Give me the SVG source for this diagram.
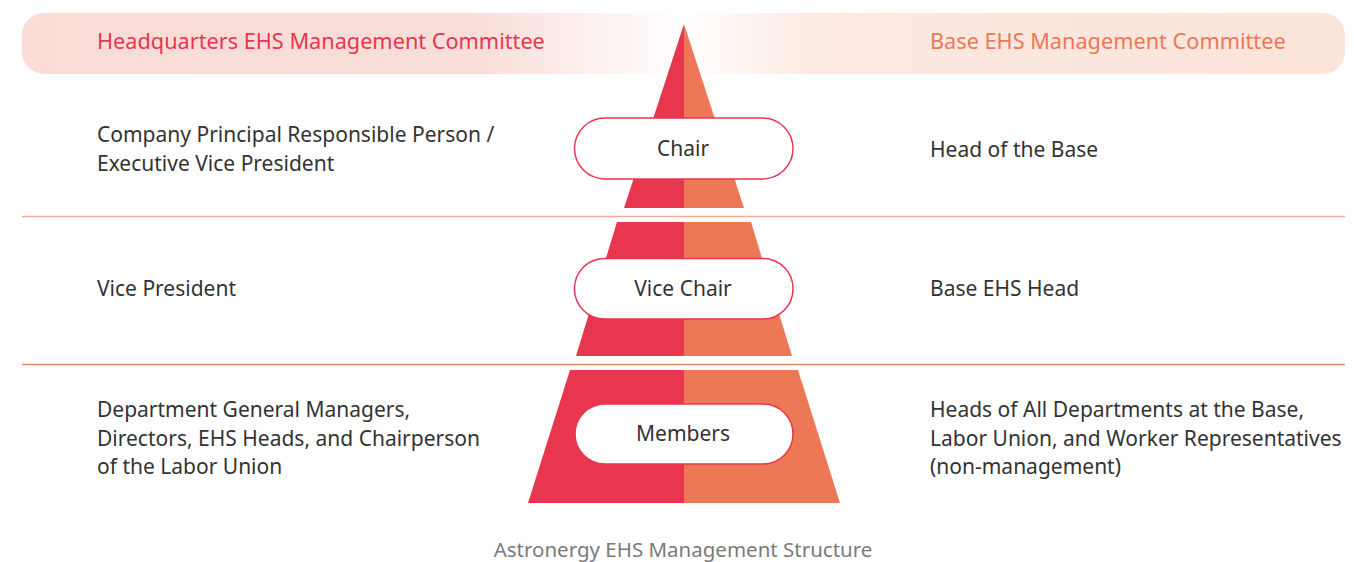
<svg xmlns="http://www.w3.org/2000/svg" width="1354" height="562" viewBox="0 0 1354 562">
<defs>
<linearGradient id="band" x1="22" y1="0" x2="1345" y2="0" gradientUnits="userSpaceOnUse">
<stop offset="0" stop-color="#f9dcd6"/>
<stop offset="0.34" stop-color="#f9ddd8"/>
<stop offset="0.5" stop-color="#ffffff"/>
<stop offset="0.6" stop-color="#fce9e1"/>
<stop offset="1" stop-color="#fbe4da"/>
</linearGradient>
<style>
.t{font-family:"Noto Sans","Open Sans",sans-serif;font-size:21px;fill:#333333}
.h{font-family:"Noto Sans","Open Sans",sans-serif;font-size:21.7px}
.pill{fill:#ffffff;stroke:#e8364f;stroke-width:1.5}
.pt{font-family:"Noto Sans","Open Sans",sans-serif;font-size:21px;fill:#333333;text-anchor:middle}
.red{fill:#e8364f}
.org{fill:#ec7855}
.div{stroke-width:1.3}
</style>
</defs>
<rect x="22" y="13" width="1323" height="61" rx="22" fill="url(#band)"/>
<text class="h" x="97" y="49" fill="#e8364f">Headquarters EHS Management Committee</text>
<text class="h" x="930" y="49" fill="#ec7855">Base EHS Management Committee</text>
<g id="connectors">
<line class="div" x1="22" y1="216.5" x2="1345" y2="216.5" stroke="#f3ab9a"/>
<line class="div" x1="22" y1="364.5" x2="1345" y2="364.5" stroke="#ef8a6c"/>
</g>
<g id="pyramid">
<polygon class="red" points="684,24 624,208 684,208"/>
<polygon class="org" points="684,24 744,208 684,208"/>
<polygon class="red" points="617,222 576,356 684,356 684,222"/>
<polygon class="org" points="684,222 684,356 792,356 751,222"/>
<polygon class="red" points="570,370 528,503 684,503 684,370"/>
<polygon class="org" points="684,370 684,503 840,503 798,370"/>
</g>
<g id="chair">
<rect class="pill" x="574.5" y="118" width="218.5" height="61" rx="30.5"/>
<text class="pt" x="683" y="156">Chair</text>
</g>
<g id="vice-chair">
<rect class="pill" x="574.5" y="258.5" width="218.5" height="60.5" rx="30"/>
<text class="pt" x="683" y="296">Vice Chair</text>
</g>
<g id="members">
<rect class="pill" x="575" y="404" width="218" height="60" rx="30"/>
<text class="pt" x="683" y="441">Members</text>
</g>
<g id="hq-chair">
<text class="t" x="97" y="142">Company Principal Responsible Person /</text>
<text class="t" x="97" y="171">Executive Vice President</text>
</g>
<g id="hq-vice">
<text class="t" x="97" y="296">Vice President</text>
</g>
<g id="hq-members">
<text class="t" x="97" y="417">Department General Managers,</text>
<text class="t" x="97" y="446">Directors, EHS Heads, and Chairperson</text>
<text class="t" x="97" y="474">of the Labor Union</text>
</g>
<g id="base-chair">
<text class="t" x="930" y="157">Head of the Base</text>
</g>
<g id="base-vice">
<text class="t" x="930" y="296">Base EHS Head</text>
</g>
<g id="base-members">
<text class="t" x="930" y="417">Heads of All Departments at the Base,</text>
<text class="t" x="930" y="446">Labor Union, and Worker Representatives</text>
<text class="t" x="930" y="474">(non-management)</text>
</g>
<text x="683" y="557" text-anchor="middle" style="font-family:'Noto Sans','Open Sans',sans-serif;font-size:20.5px;fill:#7a7a7a">Astronergy EHS Management Structure</text>
</svg>
